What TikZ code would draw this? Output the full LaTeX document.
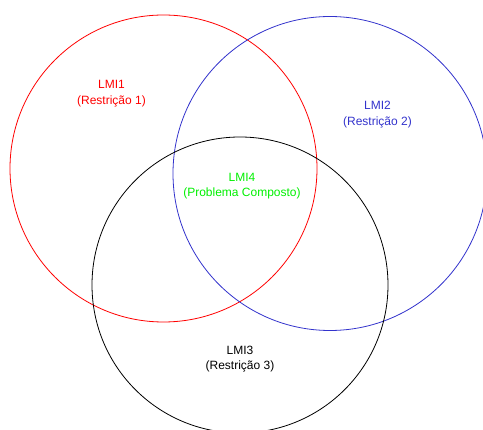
\documentclass[tikz,border=0pt]{standalone}
\usepackage{fontspec}
\setmainfont{Liberation Sans}
\usepackage{xcolor}
\usepackage{tikz}

\definecolor{lmiblue}{RGB}{51,51,204}
\definecolor{lmigreen}{RGB}{0,240,0}

\begin{document}
\begin{tikzpicture}[x=1pt, y=-1pt,
    ring/.style={circle, draw, line width=0.8pt, inner sep=0pt},
    lbl/.style={align=center, font=\fontsize{12}{15.5}\selectfont}]
    \useasboundingbox (0,0) rectangle (483,430);
    \clip (0,0) rectangle (483,430);

    \node[ring, red, minimum size=307pt] at (163.5, 168.5) (lmi1) {};
    \node[ring, lmiblue, minimum size=314pt] at (330, 173.5) (lmi2) {};
    \node[ring, black, minimum size=296pt] at (240, 285) (lmi3) {};

    \node[lbl, red] at (111.5, 93.5) (txt1) {LMI1\\(Restrição 1)};
    \node[lbl, lmiblue] at (377.5, 114.5) (txt2) {LMI2\\(Restrição 2)};
    \node[lbl, black] at (240, 359) (txt3) {LMI3\\(Restrição 3)};
    \node[lbl, lmigreen] at (242, 186) (txt4) {LMI4\\(Problema Composto)};
\end{tikzpicture}
\end{document}
